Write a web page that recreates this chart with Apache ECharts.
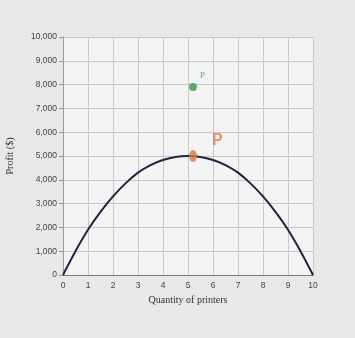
<!DOCTYPE html>
<html>
<head>
<meta charset="utf-8">
<script src="https://cdn.jsdelivr.net/npm/echarts@6/dist/echarts.min.js"></script>
<style>
  html, body { margin: 0; padding: 0; background: #e8e8e8; }
  #main { width: 355px; height: 338px; }
</style>
</head>
<body>
<div id="main"></div>
<script>
// quantity and profit (half steps)
var quantity = [0, 0.5, 1, 1.5, 2, 2.5, 3, 3.5, 4, 4.5, 5, 5.5, 6, 6.5, 7, 7.5, 8, 8.5, 9, 9.5, 10];
var profit = [0, 1000, 1900, 2650, 3300, 3850, 4300, 4620, 4830, 4960, 5000, 4960, 4830, 4620, 4300, 3850, 3300, 2650, 1900, 1000, 0];
// the two marked points
var peakPoint = [5.2, 5000];
var greenPoint = [5.2, 7900];
var yTicks = [0, 1000, 2000, 3000, 4000, 5000, 6000, 7000, 8000, 9000, 10000];

var myChart = echarts.init(document.getElementById('main'));

var curveData = [];
for (var i = 0; i < quantity.length; i++) {
    curveData.push([quantity[i], profit[i]]);
}

var option = {
    backgroundColor: '#e8e8e8',
    animation: false,
    grid: {
        left: 63, right: 42, top: 37, bottom: 63,
        containLabel: false,
        outerBoundsMode: 'none',
        show: true,
        backgroundColor: '#f3f3f3',
        borderWidth: 0
    },
    xAxis: {
        type: 'value',
        min: 0, max: 10, interval: 1,
        name: 'Quantity of printers',
        nameLocation: 'middle',
        nameGap: 17,
        nameTextStyle: { fontFamily: 'Liberation Serif', fontSize: 10, color: '#333' },
        axisLine: { lineStyle: { color: '#777', width: 1.2 } },
        axisTick: { show: false },
        axisLabel: { fontSize: 8.5, color: '#444', margin: 6 },
        splitLine: { lineStyle: { color: '#c8c8c8' } }
    },
    yAxis: {
        type: 'value',
        min: 0, max: yTicks[yTicks.length - 1], interval: 1000,
        name: 'Profit ($)',
        nameLocation: 'middle',
        nameGap: 48,
        nameTextStyle: { fontFamily: 'Liberation Serif', fontSize: 10, color: '#333' },
        axisLine: { show: true, lineStyle: { color: '#999' } },
        axisTick: { show: true, length: 4, lineStyle: { color: '#999' } },
        axisLabel: {
            fontSize: 8.5, color: '#444', margin: 6,
            formatter: function (v) { return v.toLocaleString('en-US'); }
        },
        splitLine: { lineStyle: { color: '#c8c8c8' } }
    },
    series: [{
        type: 'line',
        smooth: 0.4,
        symbol: 'none',
        data: curveData,
        lineStyle: { color: '#1e2740', width: 2 }
    }, {
        type: 'scatter',
        data: [peakPoint],
        symbol: 'circle',
        symbolSize: [8, 12],
        itemStyle: { color: '#d97a45' },
        label: {
            show: true,
            position: [23, -17],
            formatter: 'P',
            fontSize: 16,
            fontWeight: 'bold',
            color: '#d97a45'
        },
        z: 5
    }, {
        type: 'scatter',
        data: [greenPoint],
        symbol: 'circle',
        symbolSize: 8,
        itemStyle: { color: '#2f9c4a' },
        label: {
            show: true,
            position: [11, -12],
            formatter: 'P',
            fontFamily: 'Liberation Serif',
            fontSize: 9,
            color: '#3f9a55'
        },
        z: 5
    }]
};

myChart.setOption(option);
</script>
</body>
</html>
